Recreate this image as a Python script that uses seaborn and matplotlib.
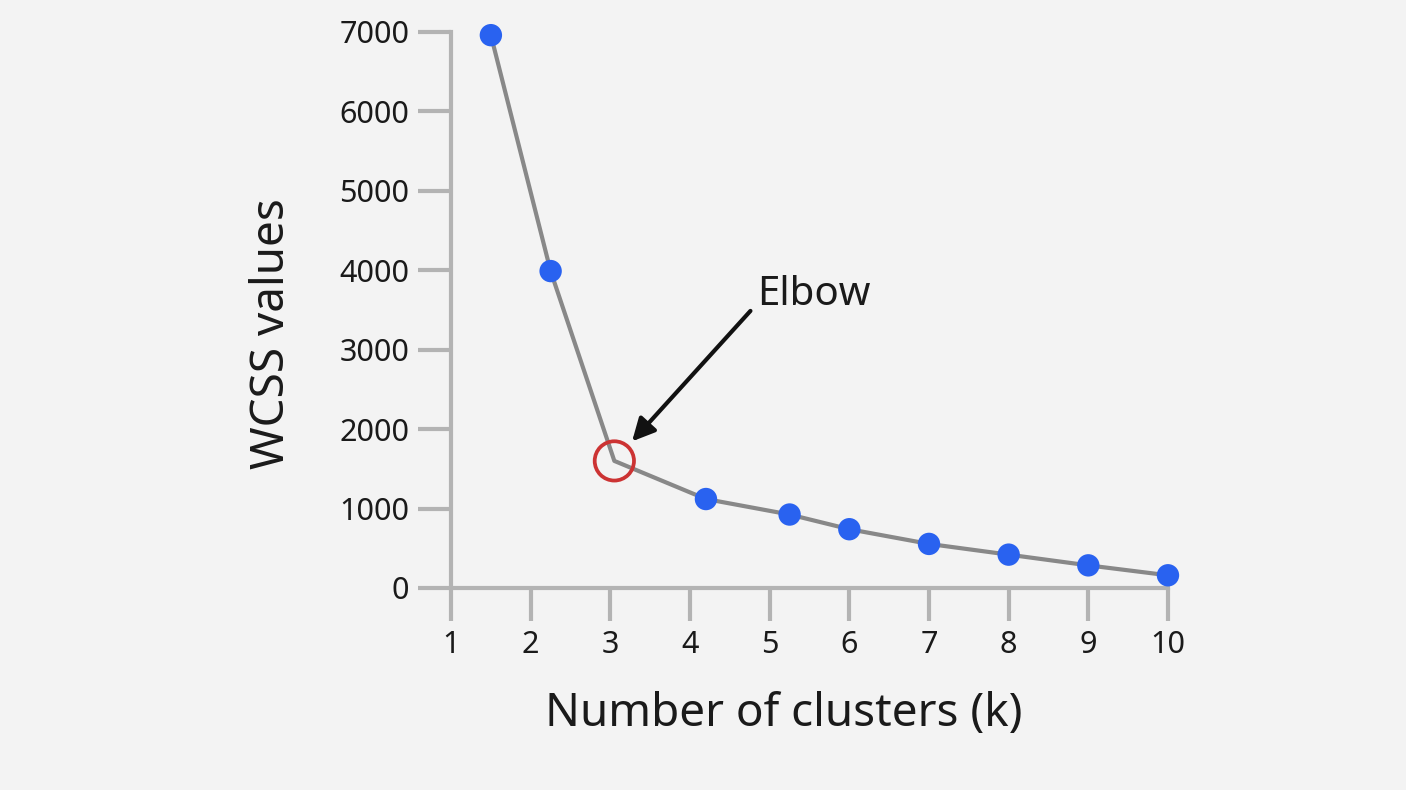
import matplotlib
matplotlib.use("Agg")
import pandas as pd
import matplotlib.pyplot as plt
import seaborn as sns

# Values
k_values = [1.5, 2.25, 3.05, 4.2, 5.25, 6.0, 7.0, 8.0, 9.0, 10.0]
wcss_values = [6960, 3990, 1600, 1120, 925, 740, 555, 420, 285, 160]
elbow_index = 2
x_ticks = [1, 2, 3, 4, 5, 6, 7, 8, 9, 10]
y_ticks = [0, 1000, 2000, 3000, 4000, 5000, 6000, 7000]

df = pd.DataFrame({"k": k_values, "wcss": wcss_values})
dots = df.drop(index=elbow_index)
elbow = df.loc[[elbow_index]]

sns.set_style("white")
plt.rcParams["font.family"] = ["Noto Sans", "DejaVu Sans"]

bg = "#f3f3f3"
axis_grey = "#b3b3b3"
text_col = "#1a1a1a"

fig = plt.figure(figsize=(14.06, 7.9), dpi=100, facecolor=bg)
ax = fig.add_axes([0.3208, 0.2557, 0.5099, 0.7038])
ax.set_facecolor(bg)

# Line and markers
sns.lineplot(data=df, x="k", y="wcss", color="#888888", linewidth=3, ax=ax, zorder=2)
sns.scatterplot(data=dots, x="k", y="wcss", color="#2962f0", s=260, edgecolor="none",
                ax=ax, zorder=3, clip_on=False)
ax.scatter(elbow["k"], elbow["wcss"], s=800, facecolors="none", edgecolors="#cc3333",
           linewidths=2.7, zorder=4, clip_on=False)

# Elbow annotation
ex, ey = elbow["k"].iloc[0], elbow["wcss"].iloc[0]
ax.annotate("", xy=(ex, ey), xytext=(98, 108), textcoords="offset points",
            arrowprops=dict(arrowstyle="-|>", color="#111111", lw=3, mutation_scale=34,
                            shrinkA=0, shrinkB=19))
ax.annotate("Elbow", xy=(ex, ey), xytext=(103, 112), textcoords="offset points",
            fontsize=29, color=text_col, ha="left", va="baseline")

# Axes styling
ax.set_xlim(1, 10)
ax.set_ylim(0, 7000)
ax.set_xticks(x_ticks)
ax.set_yticks(y_ticks)
for side in ["top", "right"]:
    ax.spines[side].set_visible(False)
for side in ["left", "bottom"]:
    ax.spines[side].set_color(axis_grey)
    ax.spines[side].set_linewidth(3)
ax.tick_params(axis="both", direction="out", length=24, width=3, color=axis_grey,
               labelsize=22, labelcolor=text_col, pad=6, bottom=True, left=True)

ax.set_xlabel("Number of clusters (k)", fontsize=33, color=text_col)
ax.set_ylabel("WCSS values", fontsize=33, color=text_col)
ax.xaxis.set_label_coords(0.464, -0.185)
ax.yaxis.set_label_coords(-0.218, 0.457)

plt.savefig("out.png", dpi=100, facecolor=bg)
